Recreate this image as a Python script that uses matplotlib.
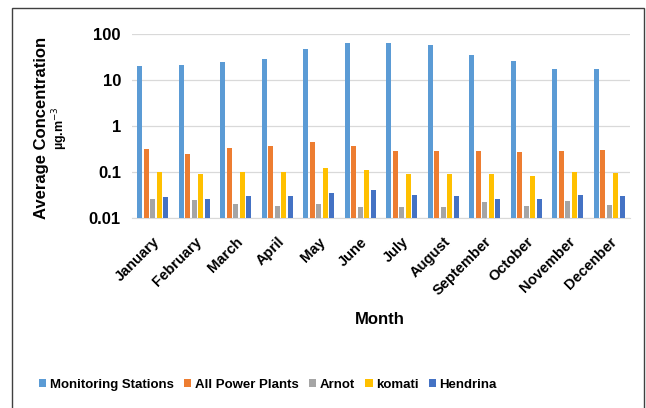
import matplotlib
matplotlib.use("Agg")
import matplotlib.pyplot as plt
import numpy as np
from matplotlib.patches import Rectangle

plt.rcParams['font.family'] = ['Liberation Sans', 'DejaVu Sans']

months = ["January", "February", "March", "April", "May", "June", "July",
          "August", "September", "October", "November", "Decenber"]
series_names = ["Monitoring Stations", "All Power Plants", "Arnot", "komati", "Hendrina"]
monitoring = [20.4, 21.3, 24.5, 28.9, 47.0, 63.6, 63.6, 56.5, 35.4, 26.2, 17.3, 17.3]
all_plants = [0.32, 0.25, 0.336, 0.36, 0.455, 0.366, 0.289, 0.289, 0.289, 0.271, 0.289, 0.304]
arnot = [0.0265, 0.0243, 0.0206, 0.0183, 0.0206, 0.0174, 0.0174, 0.0174, 0.0223, 0.0183, 0.0235, 0.0196]
komati = [0.10, 0.0885, 0.10, 0.10, 0.123, 0.11, 0.0885, 0.0885, 0.0885, 0.0824, 0.099, 0.093]
hendrina = [0.028, 0.0265, 0.0297, 0.0297, 0.035, 0.040, 0.0318, 0.0297, 0.0265, 0.0265, 0.0318, 0.0297]
colors = ["#5B9BD5", "#ED7D31", "#A5A5A5", "#FFC000", "#4472C4"]

data = [monitoring, all_plants, arnot, komati, hendrina]

fig = plt.figure(figsize=(6.46, 4.08), dpi=100)
ax = fig.add_axes([132/646, 1-218/408, (630-132)/646, (218-34)/408])

x = np.arange(len(months))
step = 0.155
width = 0.12
handles = []
for i, (vals, c, name) in enumerate(zip(data, colors, series_names)):
    h = ax.bar(x + (i-2)*step, vals, width, color=c, label=name, zorder=3)
    handles.append(h)

ax.set_yscale('log')
ax.set_ylim(0.01, 100)
ax.set_xlim(-0.5, len(months)-0.5)
ax.set_yticks([0.01, 0.1, 1, 10, 100])
ax.set_yticklabels(["0.01", "0.1", "1", "10", "100"], fontsize=12, fontweight='bold')
ax.yaxis.set_minor_locator(matplotlib.ticker.NullLocator())
ax.grid(axis='y', color='#D9D9D9', linewidth=0.9, zorder=0)
ax.set_xticks(x)
ax.set_xticklabels(months, rotation=45, ha='right', rotation_mode='anchor',
                   fontsize=10.5, fontweight='bold')
ax.tick_params(axis='y', length=0, pad=8)
ax.tick_params(axis='x', length=0, pad=12)
for s in ['top', 'right', 'left']:
    ax.spines[s].set_visible(False)
ax.spines['bottom'].set_color('#D9D9D9')

fig.text(380/646, 1-320/408, "Month", ha='center', va='center', fontsize=12, fontweight='bold')
fig.text(42/646, 1-128/408, "Average Concentration", rotation=90, ha='center', va='center',
         fontsize=12, fontweight='bold')
fig.text(60/646, 1-128/408, "µg.m$^{-3}$", rotation=90, ha='center', va='center',
         fontsize=9, fontweight='bold')

leg = fig.legend(handles=handles, loc='center', bbox_to_anchor=(268/646, 1-385/408), ncol=5,
                 frameon=False, prop={'weight': 'bold', 'size': 9.5}, handlelength=0.55,
                 handleheight=0.55, handletextpad=0.25, columnspacing=0.8)

fig.patches.append(Rectangle((12/646, -0.02), (644-12)/646, 1-8/408+0.02, transform=fig.transFigure,
                             fill=False, edgecolor='#404040', linewidth=1.0))

fig.savefig("out.png", dpi=100)
